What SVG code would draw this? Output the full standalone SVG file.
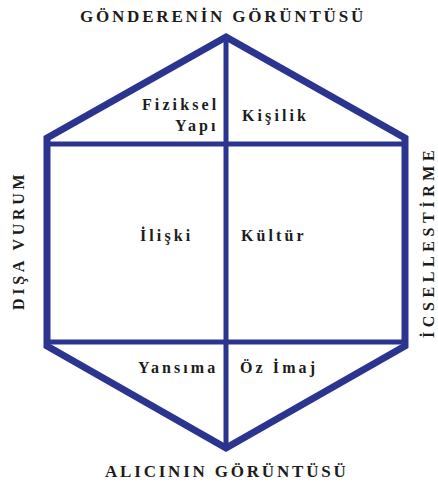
<svg xmlns="http://www.w3.org/2000/svg" width="438" height="483" viewBox="0 0 438 483">
<style>
.frame{fill:none;stroke:#2b3590;stroke-width:7;stroke-linejoin:miter}
.div{stroke:#2b3590;stroke-width:5;fill:none}
text{font-family:'Liberation Serif','Times New Roman',Times,serif;font-weight:bold;fill:#1c1c1c}
.lbl{font-size:16px;letter-spacing:3.1px}
.ttl{font-size:17px;letter-spacing:2.8px}
</style>
<rect width="438" height="483" fill="#ffffff"/>
<g id="connectors">
<polygon class="frame" points="226,37 47,138 47,346 226,448 405,346 405,138"/>
<line class="div" x1="47" y1="144" x2="405" y2="144"/>
<line class="div" x1="47" y1="342" x2="405" y2="342"/>
<line class="div" x1="226" y1="37" x2="226" y2="448"/>
</g>
<g id="title-top"><text class="ttl" x="80" y="22">GÖNDERENİN GÖRÜNTÜSÜ</text></g>
<g id="title-bottom"><text class="ttl" x="105" y="477">ALICININ GÖRÜNTÜSÜ</text></g>
<g id="side-left"><text font-size="16" letter-spacing="3.7" transform="translate(24,310) rotate(-90)">DIŞA VURUM</text></g>
<g id="side-right"><text font-size="16" letter-spacing="4.6" transform="translate(434,338) rotate(-90)">İCSELLESTİRME</text></g>
<g id="fiziksel-yapi"><text class="lbl" x="142" y="110">Fiziksel</text><text class="lbl" x="175" y="131">Yapı</text></g>
<g id="kisilik"><text class="lbl" x="242" y="121">Kişilik</text></g>
<g id="iliski"><text class="lbl" x="140" y="241">İlişki</text></g>
<g id="kultur"><text class="lbl" x="241" y="241">Kültür</text></g>
<g id="yansima"><text class="lbl" x="138" y="373">Yansıma</text></g>
<g id="oz-imaj"><text class="lbl" x="240" y="373">Öz İmaj</text></g>
</svg>
